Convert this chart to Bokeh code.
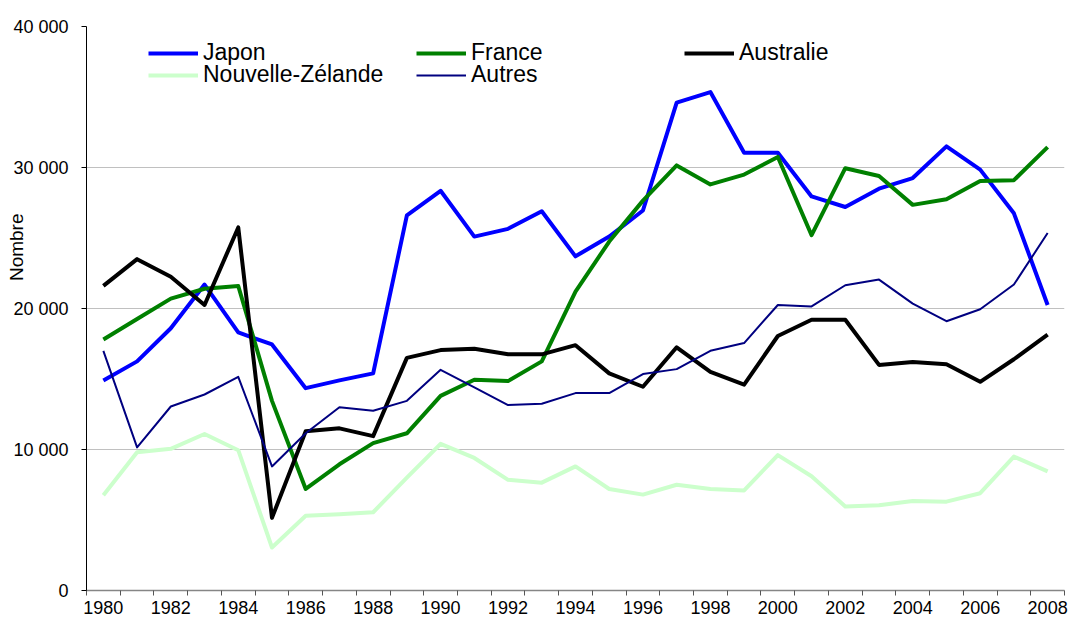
from bokeh.plotting import figure
from bokeh.models import (Range1d, FixedTicker, Legend, LegendItem, Title)
from bokeh.embed import file_html
from bokeh.resources import INLINE

# ---- data ----
years = list(range(1980, 2009))
japon = [14900, 16250, 18600, 21700, 18300, 17450, 14350, 14900, 15400, 26600,
         28350, 25100, 25650, 26900, 23700, 25100, 26950, 34600, 35350, 31050,
         31050, 27950, 27200, 28500, 29250, 31500, 29850, 26750, 20250]
france = [17800, 19250, 20700, 21400, 21600, 13450, 7200, 8950, 10450, 11150,
          13800, 14950, 14850, 16250, 21200, 24750, 27650, 30150, 28800, 29500,
          30750, 25200, 29950, 29400, 27350, 27750, 29050, 29100, 31450]
australie = [21600, 23500, 22250, 20250, 25750, 5150, 11300, 11500, 10950, 16500,
             17050, 17150, 16750, 16750, 17400, 15400, 14450, 17250, 15500, 14600,
             18050, 19200, 19200, 16000, 16200, 16050, 14800, 16400, 18150]
nouvelle_zelande = [6750, 9800, 10050, 11100, 9950, 3050, 5300, 5400, 5550, 8000,
                    10400, 9400, 7850, 7650, 8800, 7200, 6800, 7500, 7200, 7100,
                    9600, 8100, 5950, 6050, 6350, 6300, 6900, 9500, 8450]
autres = [17000, 10150, 13050, 13900, 15150, 8800, 11150, 13000, 12750, 13450,
          15650, 14400, 13150, 13250, 14000, 14000, 15350, 15700, 17000, 17550,
          20250, 20150, 21650, 22050, 20350, 19100, 19950, 21700, 25350]

series_names = ["Japon", "France", "Australie", "Nouvelle-Zélande", "Autres"]
y_ticks = [0, 10000, 20000, 30000, 40000]
y_tick_labels = ["0", "10 000", "20 000", "30 000", "40 000"]
x_ticks = list(range(1980, 2009, 2))
x_tick_labels = [str(y) for y in x_ticks]
y_axis_title = "Nombre"

FONT = "Liberation Sans"
W, H = 1070, 621
BL, BR, BT, BB = 86, 6, 26, 31
fh = H - BT - BB

p = figure(width=W, height=H, output_backend="svg", toolbar_location=None,
           x_range=Range1d(1979.5, 2008.5), y_range=Range1d(0, 40000),
           min_border_left=BL, min_border_right=BR, min_border_top=BT,
           min_border_bottom=BB)
p.outline_line_color = None
p.background_fill_color = "white"
p.border_fill_color = "white"

# grid
p.xgrid.grid_line_color = None
p.ygrid.grid_line_color = "#c0c0c0"
p.ygrid.grid_line_width = 1

# y axis
p.yaxis.ticker = FixedTicker(ticks=y_ticks)
p.yaxis.major_label_overrides = dict(zip(y_ticks, y_tick_labels))
p.yaxis.axis_line_color = "black"
p.yaxis.major_tick_line_color = "black"
p.yaxis.major_tick_out = 5
p.yaxis.major_tick_in = 0
p.yaxis.minor_tick_line_color = None
p.yaxis.major_label_standoff = 13
p.yaxis.major_label_text_font = FONT
p.yaxis.major_label_text_font_size = "18px"
p.yaxis.major_label_text_color = "black"

# x axis
half = [y - 0.5 for y in years] + [years[-1] + 0.5]
p.xaxis.ticker = FixedTicker(ticks=x_ticks, minor_ticks=half)
p.xaxis.major_label_overrides = dict(zip(x_ticks, x_tick_labels))
p.xaxis.axis_line_color = "#868686"
p.xaxis.axis_line_width = 1.5
p.xaxis.major_tick_line_color = None
p.xaxis.major_tick_out = 5
p.xaxis.major_tick_in = 0
p.xaxis.minor_tick_line_color = "#555555"
p.xaxis.minor_tick_out = 5
p.xaxis.minor_tick_in = 0
p.xaxis.major_label_standoff = 5
p.xaxis.major_label_text_font = FONT
p.xaxis.major_label_text_font_size = "18px"
p.xaxis.major_label_text_color = "black"

styles = [
    (japon, "#0000ff", 4),
    (france, "#008000", 4),
    (australie, "#000000", 4),
    (nouvelle_zelande, "#ccffcc", 4),
    (autres, "#000080", 2),
]
renderers = []
for data, color, w in styles:
    r = p.line(years, data, line_color=color, line_width=w, line_join="round")
    renderers.append(r)

# legends (one per item, positioned like the reference grid)
positions = [(62, fh - 40), (330, fh - 40), (598, fh - 40),
             (62, fh - 62), (330, fh - 62)]
for name, r, loc in zip(series_names, renderers, positions):
    lg = Legend(items=[LegendItem(label=name, renderers=[r])], location=loc,
                padding=0, margin=0, spacing=0, border_line_color=None,
                background_fill_alpha=0, glyph_width=50, glyph_height=26,
                label_height=26, label_standoff=5,
                label_text_font=FONT, label_text_font_size="23px",
                label_text_color="black")
    p.add_layout(lg)

# y-axis title as a side title, placed toward the top like in the reference
p.add_layout(Title(text=y_axis_title, align="right", offset=187, standoff=-32,
                   text_font=FONT, text_font_size="19px",
                   text_font_style="normal", text_color="black"), "left")

open("out.html", "w").write(file_html(p, INLINE))
